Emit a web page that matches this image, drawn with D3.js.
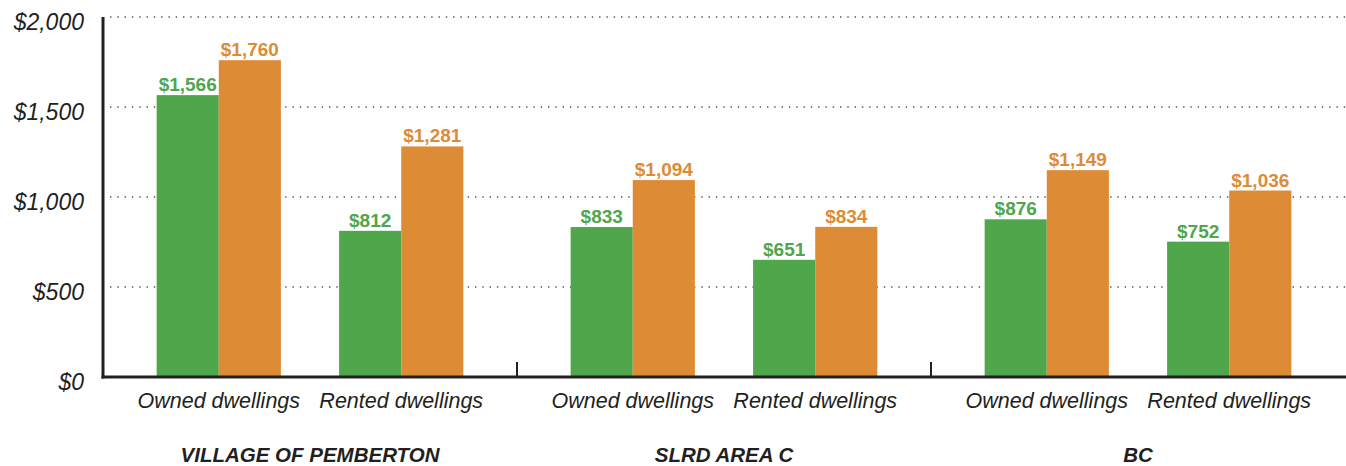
<!DOCTYPE html>
<html>
<head>
<meta charset="utf-8">
<script src="https://cdn.jsdelivr.net/npm/d3@7"></script>
<style>
  html, body { margin: 0; padding: 0; background: #fff; }
  svg { display: block; }
</style>
</head>
<body>
<svg id="chart" width="1346" height="466"></svg>
<script>
// Average monthly shelter costs by tenure and region
const regions = ["VILLAGE OF PEMBERTON", "SLRD AREA C", "BC"];
const tenures = ["Owned dwellings", "Rented dwellings"];
const seriesKeys = ["median", "average"];
const medianValues = [1566, 812, 833, 651, 876, 752];
const averageValues = [1760, 1281, 1094, 834, 1149, 1036];
const yTicks = [0, 500, 1000, 1500, 2000];

const colors = { median: "#4fa64b", average: "#de8b35" };
const labelFont = "'Liberation Sans', Arial, sans-serif";

const svg = d3.select("#chart");
const W = 1346;
const x0 = 103, x1 = 1345;
const y = d3.scaleLinear().domain([0, 2000]).range([377, 17]);

const region = d3.scaleBand().domain(regions).range([x0, x1]).padding(0);
const tenure = d3.scaleBand().domain(tenures).range([0, region.bandwidth()])
  .paddingInner(0.319).paddingOuter(0.294);
const series = d3.scaleBand().domain(seriesKeys).range([0, tenure.bandwidth()]).padding(0);

const rows = [];
regions.forEach((r, ri) => tenures.forEach((t, ti) => {
  const i = ri * tenures.length + ti;
  rows.push({ region: r, tenure: t, median: medianValues[i], average: averageValues[i] });
}));

// dotted gridlines
svg.append("g").selectAll("line")
  .data(yTicks.filter(d => d > 0))
  .join("line")
  .attr("x1", x0 + 7).attr("x2", W)
  .attr("y1", d => y(d)).attr("y2", d => y(d))
  .attr("stroke", "#555").attr("stroke-width", 1.6)
  .attr("stroke-dasharray", "1.4,5.9");

// y tick labels
svg.append("g").selectAll("text")
  .data(yTicks)
  .join("text")
  .attr("x", 84).attr("y", d => y(d) + 13)
  .attr("text-anchor", "end")
  .attr("font-family", labelFont)
  .attr("font-style", "italic")
  .attr("font-size", 23)
  .attr("fill", "#231f20")
  .text(d => "$" + d3.format(",")(d));

// bars
const groups = svg.append("g").selectAll("g")
  .data(rows)
  .join("g")
  .attr("transform", d => `translate(${region(d.region) + tenure(d.tenure)},0)`);

groups.selectAll("rect")
  .data(d => seriesKeys.map(k => ({ key: k, value: d[k] })))
  .join("rect")
  .attr("x", d => series(d.key))
  .attr("width", series.bandwidth())
  .attr("y", d => y(d.value))
  .attr("height", d => y(0) - y(d.value))
  .attr("fill", d => colors[d.key]);

groups.selectAll("text.val")
  .data(d => seriesKeys.map(k => ({ key: k, value: d[k] })))
  .join("text")
  .attr("class", "val")
  .attr("x", d => series(d.key) + series.bandwidth() / 2)
  .attr("y", d => y(d.value) - 4)
  .attr("text-anchor", "middle")
  .attr("font-family", labelFont)
  .attr("font-weight", "bold")
  .attr("font-size", 19)
  .attr("fill", d => colors[d.key])
  .text(d => "$" + d3.format(",")(d.value));

// category labels
groups.append("text")
  .attr("x", tenure.bandwidth() / 2)
  .attr("y", 408)
  .attr("text-anchor", "middle")
  .attr("font-family", labelFont)
  .attr("font-style", "italic")
  .attr("font-size", 21.5)
  .attr("fill", "#231f20")
  .text(d => d.tenure);

// region labels
svg.append("g").selectAll("text")
  .data(regions)
  .join("text")
  .attr("x", d => region(d) + region.bandwidth() / 2)
  .attr("y", 462)
  .attr("text-anchor", "middle")
  .attr("font-family", labelFont)
  .attr("font-style", "italic")
  .attr("font-weight", "bold")
  .attr("font-size", 20.5)
  .attr("fill", "#231f20")
  .text(d => d);

// axes
svg.append("line")
  .attr("x1", x0).attr("x2", x0)
  .attr("y1", y(2000)).attr("y2", y(0) + 1.5)
  .attr("stroke", "#231f20").attr("stroke-width", 3);
svg.append("line")
  .attr("x1", x0 - 1.5).attr("x2", W)
  .attr("y1", y(0)).attr("y2", y(0))
  .attr("stroke", "#231f20").attr("stroke-width", 3);

// region separators
svg.append("g").selectAll("line")
  .data(regions.slice(1))
  .join("line")
  .attr("x1", d => region(d)).attr("x2", d => region(d))
  .attr("y1", y(0) - 15).attr("y2", y(0))
  .attr("stroke", "#231f20").attr("stroke-width", 2);
</script>
</body>
</html>
